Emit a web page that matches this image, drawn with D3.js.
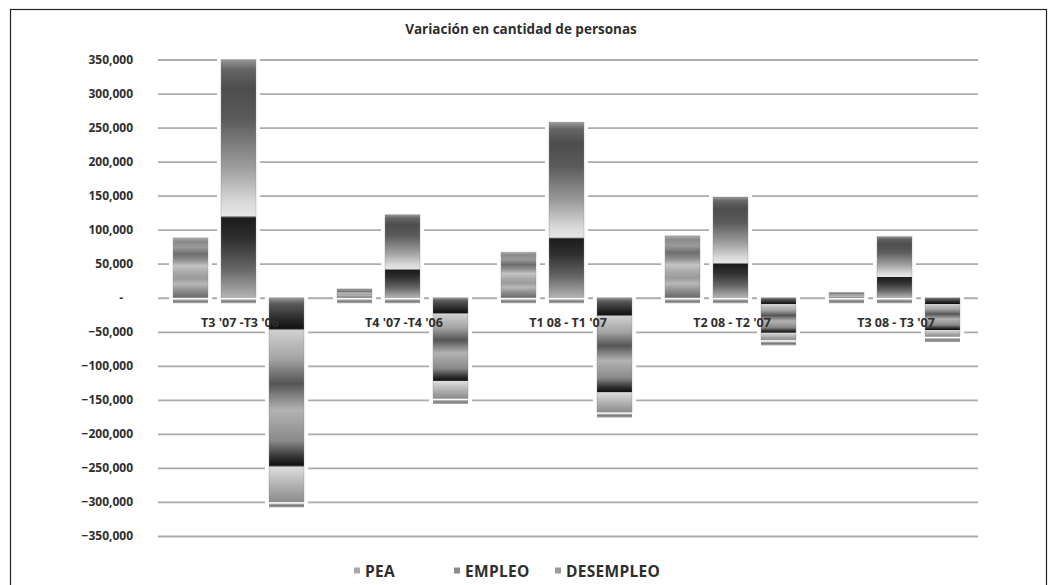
<!DOCTYPE html>
<html>
<head>
<meta charset="utf-8">
<script src="https://cdn.jsdelivr.net/npm/d3@7"></script>
<style>
  html, body { margin: 0; padding: 0; background: #fff; }
  svg { display: block; }
  text { font-family: "Open Sans", "Liberation Sans", sans-serif; fill: #2e2e2e; }
</style>
</head>
<body>
<svg id="chart" width="1057" height="585"></svg>
<script>
// Quarterly year-on-year changes (number of people)
const categories = ["T3 '07 -T3 '06", "T4 '07 -T4 '06", "T1 08 - T1 '07", "T2 08 - T2 '07", "T3 08 - T3 '07"];
const seriesNames = ["PEA", "EMPLEO", "DESEMPLEO"];
const pea = [88000, 13000, 67000, 91000, 8000];
const empleo = [350000, 122000, 258000, 148000, 90000];
const desempleo = [-300000, -148000, -168000, -62000, -57000];
const yTicks = [350000, 300000, 250000, 200000, 150000, 100000, 50000, 0,
                -50000, -100000, -150000, -200000, -250000, -300000, -350000];
const titleText = "Variación en cantidad de personas";

const seriesValues = [pea, empleo, desempleo];
const rows = [];
categories.forEach((c, i) => {
  seriesNames.forEach((s, j) => rows.push({ cat: c, series: s, value: seriesValues[j][i] }));
});

const svg = d3.select("#chart");

// Banded metallic gradients, one per series (top to bottom of each bar)
const gradientStops = {
  PEA: [[0, "#b0b0b0"], [0.06, "#8a8a8a"], [0.16, "#9a9a9a"], [0.27, "#6e6e6e"], [0.37, "#8e8e8e"],
        [0.47, "#c4c4c4"], [0.58, "#a9a9a9"], [0.68, "#9b9b9b"], [0.77, "#b8b8b8"], [0.9, "#888"], [1, "#6a6a6a"]],
  EMPLEO: [[0, "#9a9a9a"], [0.04, "#666"], [0.12, "#4d4d4d"], [0.25, "#5a5a5a"], [0.45, "#9c9c9c"],
           [0.6, "#d9d9d9"], [0.655, "#e6e6e6"], [0.665, "#1c1c1c"], [0.75, "#2e2e2e"], [0.88, "#666"], [1, "#b4b4b4"]],
  DESEMPLEO: [[0, "#9a9a9a"], [0.03, "#5a5a5a"], [0.11, "#262626"], [0.15, "#121212"], [0.16, "#d0d0d0"],
              [0.3, "#a3a3a3"], [0.42, "#555"], [0.55, "#b3b3b3"], [0.7, "#8a8a8a"], [0.78, "#333"],
              [0.82, "#111"], [0.83, "#dcdcdc"], [0.93, "#ababab"], [1, "#8c8c8c"]]
};
const defs = svg.append("defs");
seriesNames.forEach(s => {
  const g = defs.append("linearGradient")
    .attr("id", "grad-" + s)
    .attr("x1", 0).attr("y1", 0).attr("x2", 0).attr("y2", 1);
  gradientStops[s].forEach(([o, c]) => g.append("stop").attr("offset", o).attr("stop-color", c));
});
const shadowGrad = defs.append("linearGradient").attr("id", "shadow")
  .attr("x1", 0).attr("y1", 0).attr("x2", 0).attr("y2", 1);
shadowGrad.append("stop").attr("offset", 0).attr("stop-color", "#c8c8c8");
shadowGrad.append("stop").attr("offset", 0.5).attr("stop-color", "#7a7a7a");
shadowGrad.append("stop").attr("offset", 1).attr("stop-color", "#b0b0b0");

// Legend swatch tints
const swatchColor = { PEA: "#a8a8a8", EMPLEO: "#8c8c8c", DESEMPLEO: "#9a9a9a" };

// Outer frame
svg.append("rect")
  .attr("x", 10.5).attr("y", 9.5).attr("width", 1036).attr("height", 600)
  .attr("fill", "none").attr("stroke", "#222").attr("stroke-width", 1.2);

// Scales
const x0 = d3.scaleBand().domain(categories).range([158, 978]).padding(0);
const x1 = d3.scaleBand().domain(seriesNames).range([15, 146]).paddingInner(13 / 48).paddingOuter(0);
const y = d3.scaleLinear().domain([-350000, 350000]).range([536, 59.5]);

// Gridlines
const grid = svg.append("g")
  .attr("transform", "translate(158,0)")
  .call(d3.axisLeft(y).tickValues(yTicks).tickSize(-(978 - 158)).tickFormat(""));
grid.select(".domain").remove();
grid.selectAll(".tick line").attr("stroke", "#acacac").attr("stroke-width", 1.8);

// Y axis labels (accounting style: zero shown as an indented dash)
const fmt = d3.format(",");
const yAxis = svg.append("g")
  .attr("transform", "translate(133,0)")
  .call(d3.axisLeft(y).tickValues(yTicks).tickSize(0).tickPadding(0)
    .tickFormat(d => d === 0 ? "-" : fmt(d)));
yAxis.select(".domain").remove();
yAxis.selectAll("text")
  .attr("font-size", 12).attr("font-weight", 700)
  .style("font-family", "'Open Sans', sans-serif").attr("fill", "#333")
  .attr("dx", d => d === 0 ? -10 : 0);

// Bars
const groups = svg.append("g").selectAll("g.bar")
  .data(rows).join("g").attr("class", "bar")
  .attr("transform", d => `translate(${x0(d.cat) + x1(d.series)},0)`);

const bw = x1.bandwidth();
const barTop = d => y(Math.max(0, d.value));
const barBottom = d => y(Math.min(0, d.value));

// White halo around each bar
groups.append("rect")
  .attr("x", -4).attr("width", bw + 8)
  .attr("y", d => barTop(d) - 3).attr("height", d => barBottom(d) - barTop(d) + 10)
  .attr("fill", "#fff");

// Shadow strip under each bar's lower edge
groups.append("rect")
  .attr("x", 0).attr("width", bw)
  .attr("y", d => barBottom(d) + 1.5).attr("height", 4)
  .attr("fill", "url(#shadow)");

groups.append("rect")
  .attr("x", 0).attr("width", bw)
  .attr("y", barTop).attr("height", d => Math.max(1, barBottom(d) - barTop(d)))
  .attr("fill", d => `url(#grad-${d.series})`)
  .attr("stroke", "#8a8a8a").attr("stroke-width", 0.6).attr("stroke-opacity", 0.6);

// Category labels
svg.append("g").selectAll("text")
  .data(categories).join("text")
  .attr("x", d => x0(d) + x0.bandwidth() / 2)
  .attr("y", 326.5)
  .attr("text-anchor", "middle")
  .attr("font-size", 12.5).attr("font-weight", 700)
  .attr("fill", "#333")
  .text(d => d);

// Title
svg.append("text")
  .attr("x", 521).attr("y", 34)
  .attr("text-anchor", "middle")
  .attr("font-size", 13.5).attr("font-weight", 700)
  .text(titleText);

// Legend
const legendX = [357, 457, 558];
const legend = svg.append("g").selectAll("g")
  .data(seriesNames).join("g")
  .attr("transform", (d, i) => `translate(${legendX[i]},571)`);
legend.append("rect")
  .attr("x", -3).attr("y", -3.5).attr("width", 6).attr("height", 6)
  .attr("fill", d => swatchColor[d]);
legend.append("text")
  .attr("x", 8).attr("y", 5.5)
  .attr("font-size", 15.5).attr("font-weight", 700)
  .attr("letter-spacing", 0.3)
  .attr("fill", "#333")
  .text(d => d);
</script>
</body>
</html>
